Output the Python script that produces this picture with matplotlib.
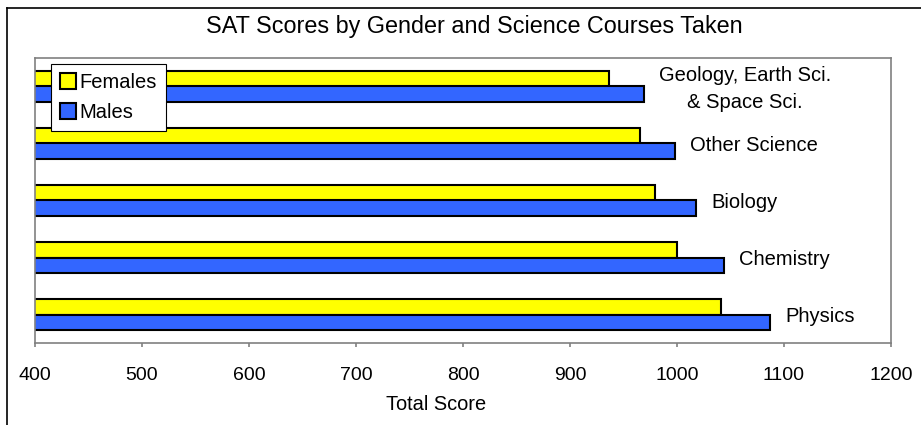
import matplotlib
matplotlib.use('Agg')
import matplotlib.pyplot as plt
from matplotlib.lines import Line2D
import numpy as np

# ==========================================
# Data (bottom to top)
# ==========================================
courses = ['Physics', 'Chemistry', 'Biology', 'Other Science',
           'Geology, Earth Sci.\n& Space Sci.']
females = [1041, 1000, 979, 965, 936]
males = [1087, 1044, 1018, 998, 969]
xticks = [400, 500, 600, 700, 800, 900, 1000, 1100, 1200]

YELLOW = '#FFFF00'
BLUE = '#3366FF'
GRAY = '#808080'

plt.rcParams['font.family'] = ['Liberation Sans', 'DejaVu Sans']

W, H = 921, 425
fig = plt.figure(figsize=(W / 100, H / 100), dpi=100)
ax = fig.add_axes([35 / W, 1 - 343 / H, (891 - 35) / W, (343 - 58) / H])

y = np.arange(len(courses))
h = 0.28
ax.barh(y + h / 2, females, height=h, color=YELLOW, edgecolor='black',
        linewidth=1.5, label='Females')
ax.barh(y - h / 2, males, height=h, color=BLUE, edgecolor='black',
        linewidth=1.5, label='Males')

# category labels to the right of each pair
for yi, name, m in zip(y, courses, males):
    ax.text(m + 14, yi - 0.04, name, ha='left', va='center', fontsize=14.5,
            multialignment='center', linespacing=1.5)

ax.set_xlim(400, 1200)
ax.set_ylim(-0.5, len(courses) - 0.5)
ax.set_xticks(xticks)
ax.set_xticklabels([str(t) for t in xticks], fontsize=14)
ax.set_yticks([])
ax.tick_params(axis='x', direction='out', length=3, color=GRAY, width=1.2, pad=14)
for s in ax.spines.values():
    s.set_color(GRAY)
    s.set_linewidth(1.2)

fig.text(436 / W, 1 - 404 / H, 'Total Score', ha='center', va='center', fontsize=14.4)

fig.text(474 / W, 1 - 27 / H, 'SAT Scores by Gender and Science Courses Taken',
         ha='center', va='center', fontsize=16.8)

leg = ax.legend(loc='upper left', bbox_to_anchor=(51 / W, 1 - 64 / H),
                bbox_transform=fig.transFigure, borderaxespad=0, fontsize=14.5,
                fancybox=False, framealpha=1, edgecolor='black',
                handlelength=0.8, handleheight=0.8, handletextpad=0.15,
                borderpad=0.45, labelspacing=0.55)
leg.get_frame().set_linewidth(0.8)

# outer chart border (left and top only visible)
fig.add_artist(Line2D([7 / W, 7 / W], [0, 1 - 8 / H], color='black',
                      linewidth=1.2, transform=fig.transFigure))
fig.add_artist(Line2D([7 / W, 1], [1 - 8 / H, 1 - 8 / H], color='black',
                      linewidth=1.2, transform=fig.transFigure))

fig.savefig('out.png', dpi=100)
